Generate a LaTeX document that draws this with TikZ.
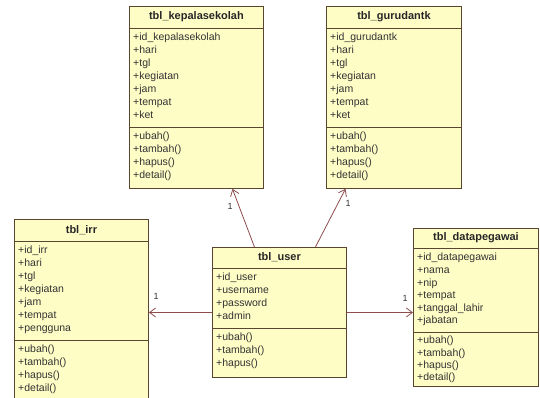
\documentclass[tikz,border=0pt]{standalone}
\usepackage{fontspec}
\setmainfont{Liberation Sans}
\usetikzlibrary{arrows.meta}
\definecolor{classfill}{HTML}{FFFDC6}
\definecolor{classdraw}{HTML}{5A4630}
\definecolor{assoccol}{HTML}{8E4C4C}
\tikzstyle{classbox}=[draw=classdraw,fill=classfill,line width=0.9pt,inner sep=0,anchor=north west]
\tikzset{classtitle/.style={font=\fontsize{11}{13}\selectfont\bfseries,inner sep=0,text=black!85}}
\tikzset{
  members/.style={
    font=\fontsize{10.5}{12.9}\selectfont,
    align=left,
    inner sep=0,
    anchor=north west,
    text=black!80
  }
}
\tikzset{assoc/.style={draw=assoccol,line width=0.8pt,-{Straight Barb[length=6,width=9]}}}
\tikzset{mult/.style={font=\fontsize{9}{10}\selectfont,inner sep=0,text=black!80}}
\newcommand{\classsep}[2]{\draw[draw=classdraw,line width=0.9pt] ([yshift=-#2]#1.north west) -- ([yshift=-#2]#1.north east);}

\begin{document}
\begin{tikzpicture}[x=1pt,y=-1pt]
\useasboundingbox (0,0) rectangle (540,398);

\node[classbox,minimum width=134,minimum height=182] (kepala) at (129,6) {};
\node[classbox,minimum width=135,minimum height=182] (guru) at (326,6) {};
\node[classbox,minimum width=134,minimum height=182] (irr) at (14,219) {};
\node[classbox,minimum width=134,minimum height=130] (user) at (212,247) {};
\node[classbox,minimum width=125,minimum height=158] (pegawai) at (413,228) {};

\classsep{kepala}{22}
\classsep{kepala}{121}
\classsep{guru}{22}
\classsep{guru}{121}
\classsep{irr}{22}
\classsep{irr}{121}
\classsep{user}{21}
\classsep{user}{81}
\classsep{pegawai}{20}
\classsep{pegawai}{104}

% class names
\node[classtitle] (kepalaname) at ([yshift=-11]kepala.north) {tbl\_kepalasekolah};
\node[classtitle] (guruname) at ([yshift=-11]guru.north) {tbl\_gurudantk};
\node[classtitle] (irrname) at ([yshift=-11]irr.north) {tbl\_irr};
\node[classtitle] (username) at ([yshift=-10.5]user.north) {tbl\_user};
\node[classtitle] (pegawainame) at ([yshift=-10]pegawai.north) {tbl\_datapegawai};

% attributes
\node[members] (kepalaattr) at ([xshift=4,yshift=-27]kepala.north west)
  {+id\_kepalasekolah\\+hari\\+tgl\\+kegiatan\\+jam\\+tempat\\+ket};
\node[members] (guruattr) at ([xshift=4,yshift=-27]guru.north west)
  {+id\_gurudantk\\+hari\\+tgl\\+kegiatan\\+jam\\+tempat\\+ket};
\node[members] (irrattr) at ([xshift=4,yshift=-27]irr.north west)
  {+id\_irr\\+hari\\+tgl\\+kegiatan\\+jam\\+tempat\\+pengguna};
\node[members] (userattr) at ([xshift=4,yshift=-26]user.north west)
  {+id\_user\\+username\\+password\\+admin};
\node[members,font=\fontsize{10.5}{12.6}\selectfont] (pegawaiattr) at ([xshift=4,yshift=-25]pegawai.north west)
  {+id\_datapegawai\\+nama\\+nip\\+tempat\\+tanggal\_lahir\\+jabatan};

% operations
\node[members] (kepalaop) at ([xshift=4,yshift=-126]kepala.north west)
  {+ubah()\\+tambah()\\+hapus()\\+detail()};
\node[members] (guruop) at ([xshift=4,yshift=-126]guru.north west)
  {+ubah()\\+tambah()\\+hapus()\\+detail()};
\node[members] (irrop) at ([xshift=4,yshift=-126]irr.north west)
  {+ubah()\\+tambah()\\+hapus()\\+detail()};
\node[members] (userop) at ([xshift=4,yshift=-86]user.north west)
  {+ubah()\\+tambah()\\+hapus()};
\node[members,font=\fontsize{10.5}{12.2}\selectfont] (pegawaiop) at ([xshift=4,yshift=-108]pegawai.north west)
  {+ubah()\\+tambah()\\+hapus()\\+detail()};

% associations
\draw[assoc] ([xshift=-25]user.north) to ([xshift=36]kepala.south);
\draw[assoc] ([xshift=36]user.north) to ([xshift=-48.5]guru.south);
\draw[assoc] (user.west) to (user.west -| irr.east);
\draw[assoc] (user.east) to (user.east -| pegawai.west);

\node[mult] (m1) at (230,206) {1};
\node[mult] (m2) at (348,203) {1};
\node[mult] (m3) at (156,296) {1};
\node[mult] (m4) at (405,298) {1};

\end{tikzpicture}
\end{document}
